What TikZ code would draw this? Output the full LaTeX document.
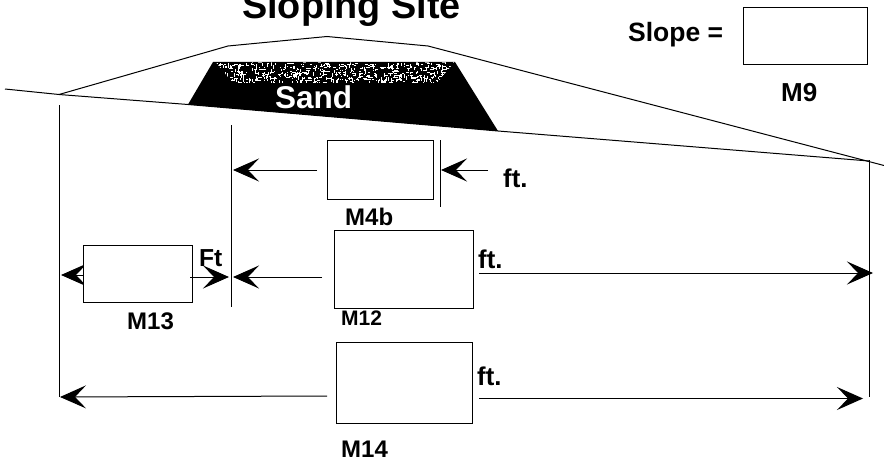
\documentclass[tikz,border=0pt]{standalone}
\usepackage{fontspec}
\setmainfont{Liberation Sans}
\usetikzlibrary{arrows.meta}
\tikzset{
  lbl/.style={font=\bfseries\fontsize{#1}{#1}\selectfont,inner sep=0pt,anchor=base west},
  valbox/.style={draw=black,line width=1pt,fill=white,inner sep=0pt,minimum width=0pt},
  thin line/.style={draw=black,line width=1pt},
  dim/.style={draw=black,line width=1pt,-{Stealth[length=26pt,width=23pt,inset=11pt]}}
}
\newcommand{\valbox}[5]{\node[valbox,anchor=north west,minimum width=#4pt,minimum height=#5pt] (#1) at (#2,#3) {};}
\begin{document}
\begin{tikzpicture}[x=1pt,y=-1pt]
\clip (0,0) rectangle (884,460);
\fill[white] (0,0) rectangle (884,460);
% ground and hill
\coordinate (g0) at (5,89);
\coordinate (gL) at (59,94.5);
\coordinate (gR) at (869,161);
\coordinate (gE) at (884,165.5);
\draw[thin line] (g0) -- (gL) -- (188,104.5) -- (498,131) -- (gR);
\draw[thin line] (gL) -- (228,46) -- (327,36.5) -- (428,46) -- (gE);
% sand
\fill[black] (213,62) -- (455,62) -- (498,131) -- (188,104.5) -- cycle;
\begin{scope}
\clip (216,62.5) -- (454,62.5) -- (437,83) -- (233,83) -- cycle;
\pgfmathsetseed{4711}
\foreach \i in {1,...,620}{
  \pgfmathsetmacro{\xa}{215+240*rnd}
  \pgfmathsetmacro{\ya}{62+21*rnd}
  \pgfmathsetmacro{\la}{1+3*rnd}
  \pgfmathparse{rnd>0.5?1:0}
  \ifnum\pgfmathresult=1
    \fill[white] (\xa,\ya) rectangle ++(\la,0.8);
  \else
    \fill[white] (\xa,\ya) rectangle ++(0.8,\la);
  \fi
}
\end{scope}
\node[lbl=31.5,text=white] (sand) at (275,109) {Sand};
% title
\node[lbl=37.8] (title) at (242,19) {Sloping Site};
\node[lbl=26.5] (slope) at (628,42) {Slope =};
\valbox{m9}{743}{7}{124}{57}
\node[lbl=26] (m9l) at (781,101.5) {M9};
% extension lines
\coordinate (xL1) at (59.5,105); \coordinate (xL2) at (59.5,397);
\coordinate (xR1) at (869,160); \coordinate (xR2) at (869,397);
\coordinate (xM1) at (231,125); \coordinate (xM2) at (231,307);
\coordinate (xN1) at (440,140); \coordinate (xN2) at (440,207);
\draw[thin line] (xL1) -- (xL2);
\draw[thin line] (xR1) -- (xR2);
\draw[thin line] (xM1) -- (xM2);
\draw[thin line] (xN1) -- (xN2);
% arrow anchors
\coordinate (a1s) at (317,170); \coordinate (a1e) at (233,170);
\coordinate (a2s) at (488,170); \coordinate (a2e) at (441,170);
\coordinate (a3s) at (322,277); \coordinate (a3e) at (233,277);
\coordinate (a4s) at (479,273); \coordinate (a4e) at (873,273);
\coordinate (a5s) at (83,275);  \coordinate (a5e) at (61,275);
\coordinate (a7s) at (327,396); \coordinate (a7e) at (60,397);
\coordinate (a8s) at (479,398.5); \coordinate (a8e) at (863,398.5);
% left M13 arrow goes under its box
\draw[dim] (a5s) ++(10,0) -- (a5e);
\foreach \n in {1,2,3,4,7,8}{\draw[dim] (a\n s) -- (a\n e);}
% boxes
\valbox{m4b}{327}{140}{106}{59}
\valbox{m12}{334}{230}{139}{78}
\valbox{m13}{83}{245}{109}{57}
\valbox{m14}{336}{342}{136}{81}
% M13 right arrow starts on its box
\coordinate (a6s) at (190,277); \coordinate (a6e) at (229,277);
\draw[dim] (a6s) -- (a6e);
% labels
\node[lbl=25.7] (f1) at (503,187) {ft.};
\node[lbl=25.7] (f2) at (478,268) {ft.};
\node[lbl=25.7] (f3) at (477,385) {ft.};
\node[lbl=24.6] (f4) at (199,266) {Ft};
\node[lbl=24] (l4b) at (345,225) {M4b};
\node[lbl=21] (l12) at (341,325) {M12};
\node[lbl=24] (l13) at (127,329) {M13};
\node[lbl=24] (l14) at (341,457) {M14};
\end{tikzpicture}
\end{document}
